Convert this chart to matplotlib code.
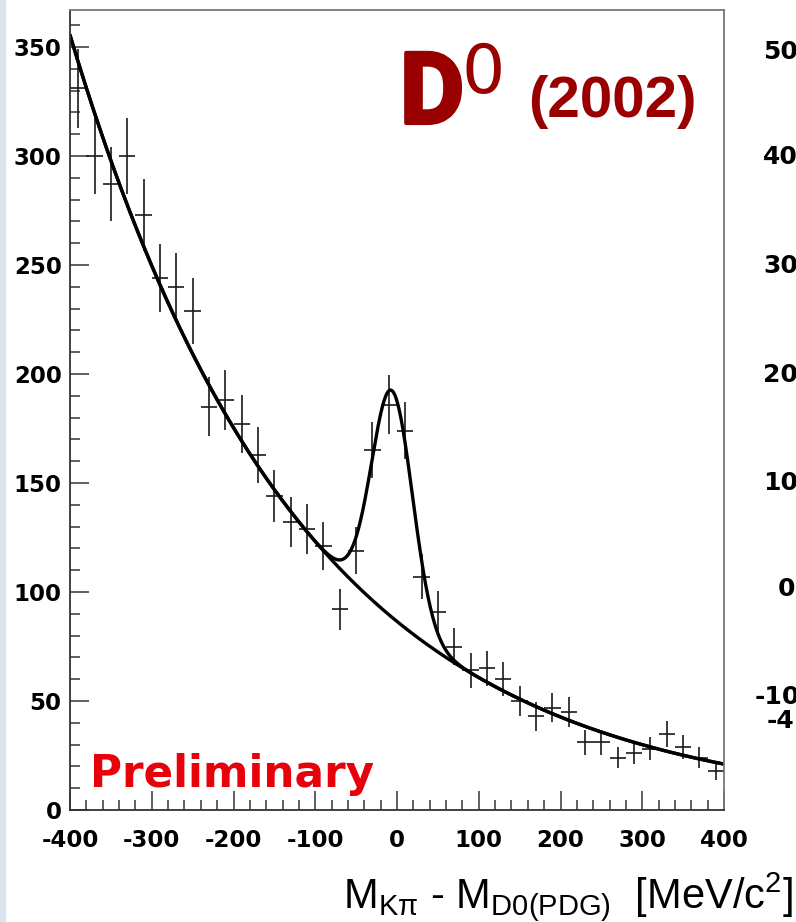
import numpy as np
import matplotlib
matplotlib.use("Agg")
import matplotlib.pyplot as plt
from matplotlib.ticker import MultipleLocator
from matplotlib.patches import Rectangle
import matplotlib.patheffects as pe

plt.rcParams['axes.unicode_minus'] = False

W, H = 796, 922

# histogram: 20 MeV bins from -400 to 400
bin_width = 20
bin_centers = np.arange(-390, 400, bin_width)
counts = np.array([331, 300, 287, 300, 273, 244, 240, 229, 185, 188,
                   177, 163, 144, 132, 129, 121, 92, 119, 165, 186,
                   174, 107, 91, 75, 64, 65, 60, 50, 43, 47,
                   45, 31, 31, 24, 26, 28, 35, 29, 24, 18])

# fit: exponential background + gaussian signal
bkg_at_zero = 86.5
bkg_decay = 283.0
sig_amp = 104.0
sig_mean = -6.0
sig_sigma = 25.0

# tick labels of the neighbouring panel (cut by the page edge)
side_labels = ['50', '40', '30', '20', '10', '0', '-10', '-4']
side_x = [763, 763, 763, 763, 763, 778, 755, 767]
side_y = [52, 157, 266, 375, 483, 589, 697, 721]


def fx(px):
    return px / W


def fy(py):
    return 1 - py / H


fig = plt.figure(figsize=(W / 100, H / 100), dpi=100)
fig.patches.append(Rectangle((0, 0), fx(5), 1, transform=fig.transFigure,
                             color='#dbe4ee', zorder=0))

ax = fig.add_axes([fx(70), fy(810), (724 - 70) / W, 800 / H])

ax.errorbar(bin_centers, counts, yerr=np.sqrt(counts), xerr=bin_width / 2,
            fmt='none', ecolor='#1a1a1a', elinewidth=1.2, capsize=0)

xs = np.linspace(-400, 400, 801)
bkg = bkg_at_zero * np.exp(-xs / bkg_decay)
total = bkg + sig_amp * np.exp(-0.5 * ((xs - sig_mean) / sig_sigma) ** 2)
ax.plot(xs, bkg, color='black', lw=2.4, solid_capstyle='round')
ax.plot(xs, total, color='black', lw=2.4, solid_capstyle='round')

ax.set_xlim(-400, 400)
ax.set_ylim(0, 367)
ax.xaxis.set_major_locator(MultipleLocator(100))
ax.xaxis.set_minor_locator(MultipleLocator(20))
ax.yaxis.set_major_locator(MultipleLocator(50))
ax.yaxis.set_minor_locator(MultipleLocator(10))
ax.tick_params(which='both', direction='in', top=False, right=False,
               width=1.1, color='#333333')
ax.tick_params(which='major', length=14)
ax.tick_params(which='minor', length=7)
ax.tick_params(axis='x', pad=14)
ax.tick_params(axis='y', pad=6)
for lab in ax.get_xticklabels() + ax.get_yticklabels():
    lab.set_fontfamily('DejaVu Sans')
    lab.set_fontweight('bold')
    lab.set_fontsize(16.5)

for side in ['left', 'bottom']:
    ax.spines[side].set_color('#333333')
    ax.spines[side].set_linewidth(1.3)
for side in ['top', 'right']:
    ax.spines[side].set_color('#777777')
    ax.spines[side].set_linewidth(1.3)

# title
dark_red = '#990000'
fig.text(fx(400), fy(123), 'D', color=dark_red, fontsize=71,
         fontfamily='Roboto', fontweight='bold', ha='left', va='baseline',
         path_effects=[pe.withStroke(linewidth=3.0, foreground=dark_red,
                                     capstyle='round', joinstyle='round')])
fig.text(fx(461), fy(93), '0', color=dark_red, fontsize=49,
         fontfamily='DejaVu Sans', ha='left', va='baseline')
fig.text(fx(528), fy(117), '(2002)', color=dark_red, fontsize=42,
         fontfamily='Liberation Sans', fontweight='bold',
         ha='left', va='baseline')

fig.text(fx(90), fy(787), 'Preliminary', color='#e8000b', fontsize=31.5,
         fontfamily='DejaVu Sans', fontweight='bold',
         ha='left', va='baseline')

fig.text(fx(343), fy(908),
         r'M$_{\mathregular{K\pi}}$ - M$_{\mathregular{D0(PDG)}}$  '
         r'[MeV/c$^{\mathregular{2}}$]',
         fontsize=30, fontfamily='Liberation Sans', color='black',
         ha='left', va='baseline')

for lab, x, y in zip(side_labels, side_x, side_y):
    fig.text(fx(x), fy(y), lab, fontsize=18, fontfamily='DejaVu Sans',
             fontweight='bold', ha='left', va='center', color='black')

fig.savefig('out.png', dpi=100)
